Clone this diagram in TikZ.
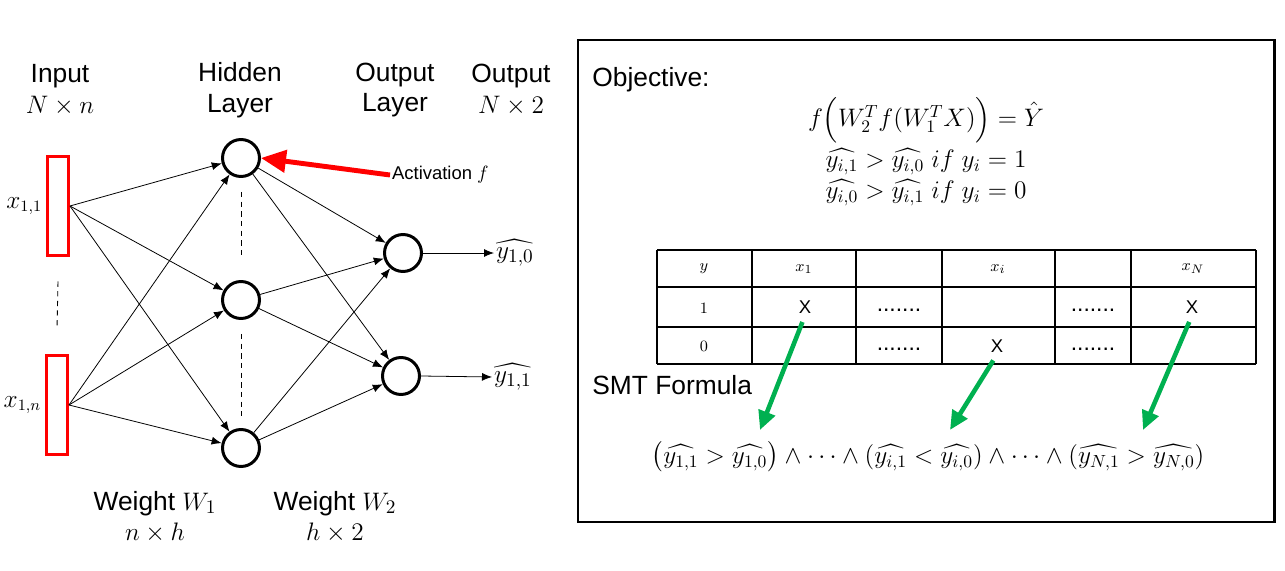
\documentclass[tikz,border=0pt]{standalone}
\usepackage{amsmath}
\usepackage{fontspec}
\setmainfont{Liberation Sans}
\usetikzlibrary{arrows.meta,calc,positioning}

\begin{document}
\begin{tikzpicture}[
  x=0.02cm, y=-0.02cm,
  font=\fontsize{15}{17.6}\selectfont,
  >=Latex,
  neuron/.style={circle, draw=black, line width=1.7pt, minimum size=0.74cm, inner sep=0},
  inbox/.style={draw=netred, line width=1.7pt, minimum width=0.42cm, minimum height=2cm, inner sep=0},
  inlabel/.style={font=\fontsize{13.5}{15}\selectfont, inner sep=1pt},
  link/.style={-{Latex[length=2mm,width=1.6mm]}, line width=.45pt},
  title/.style={align=center, inner sep=0},
  dashline/.style={dashed, dash pattern=on 3pt off 2.5pt, line width=.5pt},
  grid/.style={draw=black, line width=.7pt},
  cell/.style={font=\fontsize{9.5}{11}\selectfont, inner sep=1pt},
  xmark/.style={font=\fontsize{10.5}{12}\selectfont, inner sep=1pt},
  dots/.style={font=\fontsize{13}{14}\selectfont, inner sep=1pt},
  green arrow/.style={-{Triangle[length=3.8mm,width=3.4mm]}, draw=pgreen, line width=2.6pt},
  formula/.style={font=\fontsize{14.5}{17}\selectfont, inner sep=0}
]
\definecolor{netred}{HTML}{FF0000}
\definecolor{pgreen}{HTML}{00B050}

\useasboundingbox (0,0) rectangle (1285,571);

% network
\node[inbox] (in1) at (58,206) {};
\node[inbox] (in2) at (57,405) {};
\node[inlabel, left=1pt of in1] (xa) {$x_{1,1}$};
\node[inlabel, left=1pt of in2] (xb) {$x_{1,n}$};

\node[neuron] (h1) at (241,158) {};
\node[neuron] (h2) at (241,300) {};
\node[neuron] (h3) at (241,448) {};
\node[neuron] (o1) at (403,253) {};
\node[neuron] (o2) at (401,376) {};

\foreach \i in {1,2}
  \foreach \j in {1,2,3}
    \draw[link] (in\i.east) -- (h\j);
\foreach \j in {1,2,3}
  \foreach \k in {1,2}
    \draw[link] (h\j) -- (o\k);

\draw[dashline] ($(in1.south)+(0,24)$) -- ($(in2.north)+(0,-24)$);
\draw[dashline] ($(h1.south)+(0,14)$) -- ($(h2.north)+(0,-22)$);
\draw[dashline] ($(h2.south)+(0,14)$) -- ($(h3.north)+(0,-12)$);

\node[inner sep=1pt, anchor=west] (y10) at (494,253) {$\widehat{y_{1,0}}$};
\node[inner sep=1pt, anchor=west] (y11) at (492,377) {$\widehat{y_{1,1}}$};
\draw[link] (o1.east) -- (y10.west);
\draw[link] (o2.east) -- (y11.west);

\node[title] (tin) at (60,90) {Input\\$N\times n$};
\node[title] (thid) at (240,90) {Hidden\\Layer};
\node[title] (tout) at (395,90) {Output\\Layer};
\node[title] (tres) at (511,90) {Output\\$N\times 2$};
\node[title] (tw1) at (155,517) {Weight $W_1$\\$n\times h$};
\node[title] (tw2) at (335,517) {Weight $W_2$\\$h\times 2$};

\node[anchor=west, inner sep=1pt, font=\fontsize{10.5}{12}\selectfont] (act) at (390,175) {Activation $f$};
\draw[-{Triangle[length=5mm,width=4.4mm]}, draw=netred, fill=netred, line width=2.8pt]
  (act.west) -- (h1.east);

% SMT panel
\draw[line width=1.7pt] (578,40) rectangle (1274,522);
\node[anchor=west, inner sep=0] (obj) at (592,80) {Objective:};
\node[formula] (f1) at (926,120) {$f\Big(W_2^T f(W_1^T X)\Big) = \hat{Y}$};
\node[formula] (f2) at (926,162) {$\widehat{y_{i,1}} > \widehat{y_{i,0}}\ if\ y_i = 1$};
\node[formula] (f3) at (926,193) {$\widehat{y_{i,0}} > \widehat{y_{i,1}}\ if\ y_i = 0$};

\foreach \xx in {657,752,856,942,1055,1131,1256}
  \draw[grid] (\xx,250) -- (\xx,364);
\foreach \yy in {250,287,327,364}
  \draw[grid] (657,\yy) -- (1256,\yy);

\node[cell] (cy) at (704,269) {$y$};
\node[cell] (cx1) at (804,269) {$x_1$};
\node[cell] (cxi) at (998,269) {$x_i$};
\node[cell] (cxn) at (1193,269) {$x_N$};
\node[cell] (r1) at (704,308) {$1$};
\node[cell] (r0) at (704,346) {$0$};
\node[xmark] (m11) at (805,307) {X};
\node[dots] (d11) at (899,310) {.......};
\node[dots] (d12) at (1093,310) {.......};
\node[xmark] (m1n) at (1192,307) {X};
\node[dots] (d21) at (899,349) {.......};
\node[xmark] (m2i) at (997,346) {X};
\node[dots] (d22) at (1093,349) {.......};

\node[anchor=west, inner sep=0] (smt) at (592,385) {SMT Formula};
\node[formula] (smtf) at (928,457)
  {$\bigl(\widehat{y_{1,1}} > \widehat{y_{1,0}}\bigr) \wedge \cdots \wedge (\widehat{y_{i,1}} < \widehat{y_{i,0}}) \wedge \cdots \wedge (\widehat{y_{N,1}} > \widehat{y_{N,0}})$};

\coordinate (g1) at (760,430);
\coordinate (g2) at (950,430);
\coordinate (g3) at (1143,430);
\draw[green arrow, shorten <=4pt] (m11.south) -- (g1);
\draw[green arrow, shorten <=4pt] (m2i.south) -- (g2);
\draw[green arrow, shorten <=4pt] (m1n.south) -- (g3);
\end{tikzpicture}
\end{document}
